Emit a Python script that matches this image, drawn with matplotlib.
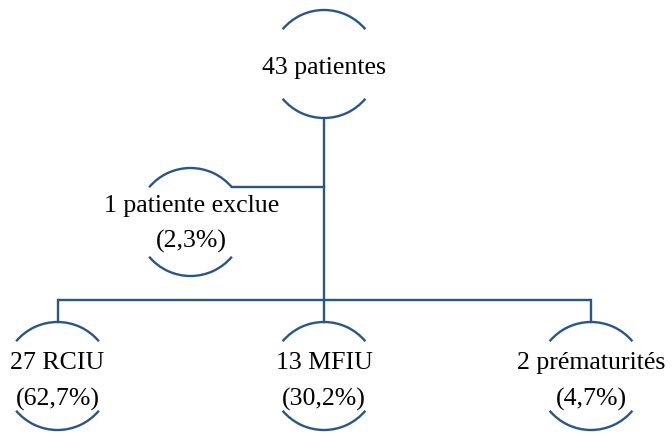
import matplotlib
matplotlib.use("Agg")
import matplotlib.pyplot as plt
from matplotlib.patches import Arc

# Data
root_label = "43 patientes"
excluded_label = ["1 patiente exclue", "(2,3%)"]
groups = ["27 RCIU", "13 MFIU", "2 prématurités"]
percents = ["(62,7%)", "(30,2%)", "(4,7%)"]

COLOR = "#2A5587"
LW = 1.7
FONT = ["Liberation Serif", "DejaVu Serif"]
FS = 18.6

fig = plt.figure(figsize=(6.72, 4.34), dpi=100)
ax = fig.add_axes([0, 0, 1, 1])
ax.set_xlim(0, 672)
ax.set_ylim(434, 0)
ax.axis("off")

R = 54
ANG = 40

def node(cx, cy):
    ax.add_patch(Arc((cx, cy), 2 * R, 2 * R, theta1=180 + ANG, theta2=360 - ANG,
                     color=COLOR, lw=LW))
    ax.add_patch(Arc((cx, cy), 2 * R, 2 * R, theta1=ANG, theta2=180 - ANG,
                     color=COLOR, lw=LW))

# root
rx, ry = 324, 64
node(rx, ry)
ax.text(rx, ry + 4, root_label, ha="center", va="center", fontsize=FS, family=FONT)

# main trunk
ax.plot([rx, rx], [ry + R, 300], color=COLOR, lw=LW, solid_capstyle="butt")

# excluded
ex, ey = 190.5, 222
node(ex, ey)
ax.plot([ex + R * 0.766, rx], [186.5, 186.5], color=COLOR, lw=LW)
ax.text(ex + 1, 206, excluded_label[0], ha="center", va="center", fontsize=FS, family=FONT)
ax.text(ex + 1, 241, excluded_label[1], ha="center", va="center", fontsize=FS, family=FONT)

# bottom row
xs = [57.5, 324, 591]
by = 376
ax.plot([xs[0], xs[-1]], [300, 300], color=COLOR, lw=LW, solid_capstyle="butt")
for x, g, p in zip(xs, groups, percents):
    ax.plot([x, x], [300, by - R], color=COLOR, lw=LW)
    node(x, by)
    ax.text(x, 363, g, ha="center", va="center", fontsize=FS, family=FONT)
    ax.text(x, 399, p, ha="center", va="center", fontsize=FS, family=FONT)

fig.savefig("out.png", dpi=100, facecolor="white")
